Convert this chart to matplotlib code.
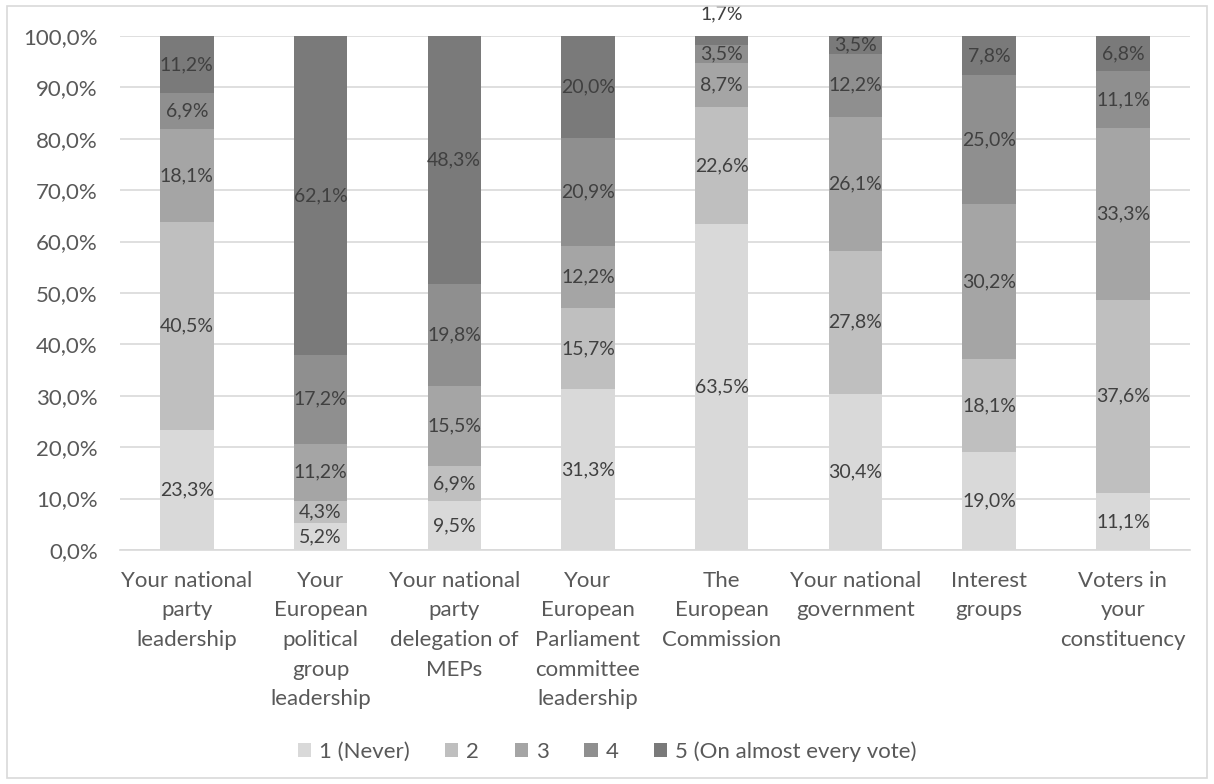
import numpy as np
import matplotlib.pyplot as plt
from matplotlib.patches import Rectangle

plt.rcParams['font.family'] = ['Lato', 'DejaVu Sans']

categories = [
    "Your national\nparty\nleadership",
    "Your\nEuropean\npolitical\ngroup\nleadership",
    "Your national\nparty\ndelegation of\nMEPs",
    "Your\nEuropean\nParliament\ncommittee\nleadership",
    "The\nEuropean\nCommission",
    "Your national\ngovernment",
    "Interest\ngroups",
    "Voters in\nyour\nconstituency",
]
series_names = ["1 (Never)", "2", "3", "4", "5 (On almost every vote)"]

never = [23.3, 5.2, 9.5, 31.3, 63.5, 30.4, 19.0, 11.1]
two = [40.5, 4.3, 6.9, 15.7, 22.6, 27.8, 18.1, 37.6]
three = [18.1, 11.2, 15.5, 12.2, 8.7, 26.1, 30.2, 33.3]
four = [6.9, 17.2, 19.8, 20.9, 3.5, 12.2, 25.0, 11.1]
every_vote = [11.2, 62.1, 48.3, 20.0, 1.7, 3.5, 7.8, 6.8]

colors = ["#d9d9d9", "#bfbfbf", "#a5a5a5", "#8f8f8f", "#7a7a7a"]
text_col = "#595959"

fig = plt.figure(figsize=(12.14, 7.84), dpi=100)
ax = fig.add_axes([0.0988, 0.2985, 0.8812, 0.6557])

x = np.arange(len(categories))
bottom = np.zeros(len(categories))
for name, vals, col in zip(series_names, [never, two, three, four, every_vote], colors):
    vals = np.array(vals) / 100
    ax.bar(x, vals, width=0.4, bottom=bottom, color=col, label=name, zorder=2)
    for xi, b, v in zip(x, bottom, vals):
        yc = b + v / 2
        # tiny top segment gets its label above the bar
        if v < 0.025 and b + v >= 0.99:
            yc = b + v + 0.042
        ax.text(xi, yc, f"{v*100:.1f}%".replace(".", ","), ha="center", va="center",
                fontsize=14, color="#404040", zorder=3, clip_on=False)
    bottom += vals

ax.set_xlim(-0.5, len(categories) - 0.5)
ax.set_ylim(0, 1)
ax.set_yticks(np.arange(0, 1.01, 0.1))
ax.set_yticklabels([f"{t*100:.1f}%".replace(".", ",") for t in np.arange(0, 1.01, 0.1)])
ax.set_xticks(x)
ax.set_xticklabels(categories, fontsize=16, color=text_col, linespacing=1.6, va="top")
ax.tick_params(axis="y", labelsize=16, colors=text_col, length=0, pad=16)
ax.tick_params(axis="x", length=0, pad=15)
ax.grid(axis="y", color="#d9d9d9", linewidth=1.2, zorder=0)
for s in ["top", "right", "left"]:
    ax.spines[s].set_visible(False)
ax.spines["bottom"].set_color("#d9d9d9")
ax.spines["bottom"].set_linewidth(1.2)

fig.legend(loc="center", bbox_to_anchor=(0.5, 0.041), ncol=5, frameon=False,
           fontsize=16, labelcolor=text_col, handlelength=0.6, handleheight=0.6,
           handletextpad=0.35, columnspacing=1.6)

fig.patches.append(Rectangle((0.006, 0.008), 0.988, 0.984, transform=fig.transFigure,
                             fill=False, edgecolor="#d9d9d9", linewidth=1.2))

fig.savefig("out.png", dpi=100)
